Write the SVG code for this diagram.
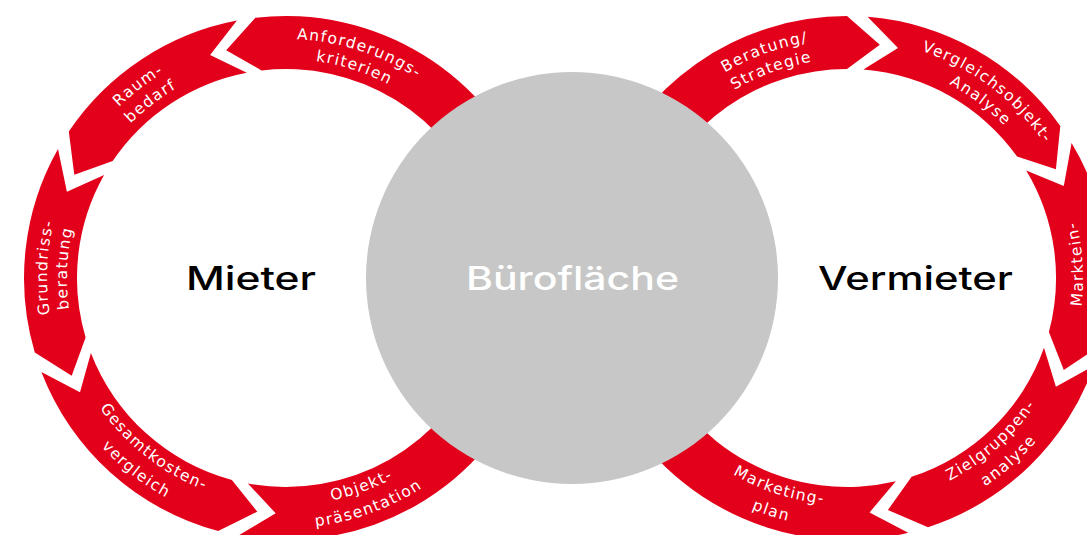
<svg xmlns="http://www.w3.org/2000/svg" xmlns:xlink="http://www.w3.org/1999/xlink" width="1087" height="535" viewBox="0 0 1087 535">
  <style>
    .seg { fill: #e2001a; }
    .lbl { fill: #ffffff; font-family: "DejaVu Sans", Inter, sans-serif; font-size: 15.5px; font-weight: normal; letter-spacing: 1.4px; }
    .title { font-family: Inter, "DejaVu Sans", sans-serif; font-size: 32px; font-weight: 500; }
  </style>
  <defs>
    <path id="t239" d="M -207,-119.5 A 239 239 0 0 1 207,-119.5"/>
    <path id="t219" d="M -189.7,-109.5 A 219 219 0 0 1 189.7,-109.5"/>
    <path id="b227" d="M -196.6,113.5 A 227 227 0 0 0 196.6,113.5"/>
    <path id="b250" d="M -216.5,125 A 250 250 0 0 0 216.5,125"/>
    <path id="b236" d="M -204.4,118 A 236 236 0 0 0 204.4,118"/>
    <path id="b258" d="M -223.4,129 A 258 258 0 0 0 223.4,129"/>
  </defs>
  <rect width="1087" height="535" fill="#ffffff"/>

  <g id="mieter-ring">
    <g id="anforderungskriterien">
      <path class="seg" d="M 532.2,188.4 A 262 262 0 0 0 255.4,17.8 L 226.2,50.2 L 261.6,70.4 A 209 209 0 0 1 482.4,206.5 L 493.9,167.4 Z"/>
      <text class="lbl" transform="translate(286,278) rotate(18)"><textPath href="#t239" startOffset="50%" text-anchor="middle">Anforderungs-</textPath></text>
      <text class="lbl" transform="translate(286,278) rotate(18)"><textPath href="#t219" startOffset="50%" text-anchor="middle">kriterien</textPath></text>
    </g>
    <g id="raumbedarf">
      <path class="seg" d="M 236.9,20.6 A 262 262 0 0 0 68.8,131.5 L 74.3,174.8 L 112.7,161.1 A 209 209 0 0 1 246.8,72.7 L 210.1,55.1 Z"/>
      <text class="lbl" transform="translate(286,278) rotate(-37.5)"><textPath href="#t239" startOffset="50%" text-anchor="middle">Raum-</textPath></text>
      <text class="lbl" transform="translate(286,278) rotate(-37.5)"><textPath href="#t219" startOffset="50%" text-anchor="middle">bedarf</textPath></text>
    </g>
    <g id="grundrissberatung">
      <path class="seg" d="M 58.0,149.0 A 262 262 0 0 0 34.8,352.4 L 71.7,375.7 L 85.6,337.4 A 209 209 0 0 1 104.1,175.1 L 66.9,191.7 Z"/>
      <text class="lbl" transform="translate(286,278) rotate(-87.5)"><textPath href="#t239" startOffset="50%" text-anchor="middle">Grundriss-</textPath></text>
      <text class="lbl" transform="translate(286,278) rotate(-87.5)"><textPath href="#t219" startOffset="50%" text-anchor="middle">beratung</textPath></text>
    </g>
    <g id="gesamtkostenvergleich">
      <path class="seg" d="M 41.4,371.9 A 262 262 0 0 0 218.2,531.1 L 257.3,511.7 L 231.9,479.9 A 209 209 0 0 1 90.9,352.9 L 80.0,392.2 Z"/>
      <text class="lbl" transform="translate(286,278) rotate(38)"><textPath href="#b227" startOffset="50%" text-anchor="middle">Gesamtkosten-</textPath></text>
      <text class="lbl" transform="translate(286,278) rotate(38)"><textPath href="#b250" startOffset="50%" text-anchor="middle">vergleich</textPath></text>
    </g>
    <g id="objektpraesentation">
      <path class="seg" d="M 238.3,535.6 A 262 262 0 0 0 532.2,367.6 L 516.3,327.0 L 482.4,349.5 A 209 209 0 0 1 247.9,483.5 L 275.7,513.3 Z"/>
      <text class="lbl" transform="translate(286,278) rotate(-20)"><textPath href="#b227" startOffset="50%" text-anchor="middle">Objekt-</textPath></text>
      <text class="lbl" transform="translate(286,278) rotate(-20)"><textPath href="#b250" startOffset="50%" text-anchor="middle">präsentation</textPath></text>
    </g>
  </g>

  <g id="vermieter-ring">
    <g id="beratung-strategie">
      <path class="seg" d="M 600.8,188.4 A 262 262 0 0 1 847,16 L 879.8,44.8 L 847,69 A 209 209 0 0 0 650.6,206.5 L 639.1,167.4 Z"/>
      <text class="lbl" transform="translate(847,278) rotate(-20)"><textPath href="#t239" startOffset="50%" text-anchor="middle">Beratung/</textPath></text>
      <text class="lbl" transform="translate(847,278) rotate(-20)"><textPath href="#t219" startOffset="50%" text-anchor="middle">Strategie</textPath></text>
    </g>
    <g id="vergleichsobjekt-analyse">
      <path class="seg" d="M 867.6,16.8 A 262 262 0 0 1 1060.3,125.9 L 1055.9,169.3 L 1017.1,156.6 A 209 209 0 0 0 863.4,69.6 L 898.0,48.1 Z"/>
      <text class="lbl" transform="translate(847,278) rotate(37)"><textPath href="#t239" startOffset="50%" text-anchor="middle">Vergleichsobjekt-</textPath></text>
      <text class="lbl" transform="translate(847,278) rotate(37)"><textPath href="#t219" startOffset="50%" text-anchor="middle">Analyse</textPath></text>
    </g>
    <g id="markteinschaetzung">
      <path class="seg" d="M 1071.6,143.1 A 262 262 0 0 1 1100.1,345.8 L 1063.8,370.0 L 1048.9,332.1 A 209 209 0 0 0 1026.2,170.4 L 1063.8,186.0 Z"/>
      <text class="lbl" transform="translate(847,278) rotate(266.5)"><textPath href="#b236" startOffset="50%" text-anchor="middle">Marktein-</textPath></text>
      <text class="lbl" transform="translate(847,278) rotate(266.5)"><textPath href="#b258" startOffset="50%" text-anchor="middle">schätzung</textPath></text>
    </g>
    <g id="zielgruppenanalyse">
      <path class="seg" d="M 1094.0,365.5 A 262 262 0 0 1 928.0,527.2 L 887.9,509.9 L 911.6,476.8 A 209 209 0 0 0 1044.0,347.8 L 1055.9,386.7 Z"/>
      <text class="lbl" transform="translate(847,278) rotate(318.5)"><textPath href="#b227" startOffset="50%" text-anchor="middle">Zielgruppen-</textPath></text>
      <text class="lbl" transform="translate(847,278) rotate(318.5)"><textPath href="#b250" startOffset="50%" text-anchor="middle">analyse</textPath></text>
    </g>
    <g id="marketingplan">
      <path class="seg" d="M 908.2,532.8 A 262 262 0 0 1 600.8,367.6 L 616.7,327.0 L 650.6,349.5 A 209 209 0 0 0 895.8,481.2 L 869.6,512.4 Z"/>
      <text class="lbl" transform="translate(847,278) rotate(18)"><textPath href="#b227" startOffset="50%" text-anchor="middle">Marketing-</textPath></text>
      <text class="lbl" transform="translate(847,278) rotate(18)"><textPath href="#b250" startOffset="50%" text-anchor="middle">plan</textPath></text>
    </g>
  </g>

  <g id="connectors"></g>

  <g id="buroflaeche">
    <circle cx="572" cy="278" r="206" fill="#c6c7c6"/>
    <text class="title" x="572.5" y="290" text-anchor="middle" fill="#ffffff" font-weight="400" textLength="213" lengthAdjust="spacingAndGlyphs">Bürofläche</text>
  </g>
  <g id="mieter">
    <text class="title" x="251" y="290" text-anchor="middle" fill="#000000" textLength="130" lengthAdjust="spacingAndGlyphs">Mieter</text>
  </g>
  <g id="vermieter">
    <text class="title" x="915.5" y="290" text-anchor="middle" fill="#000000" textLength="195" lengthAdjust="spacingAndGlyphs">Vermieter</text>
  </g>
</svg>
